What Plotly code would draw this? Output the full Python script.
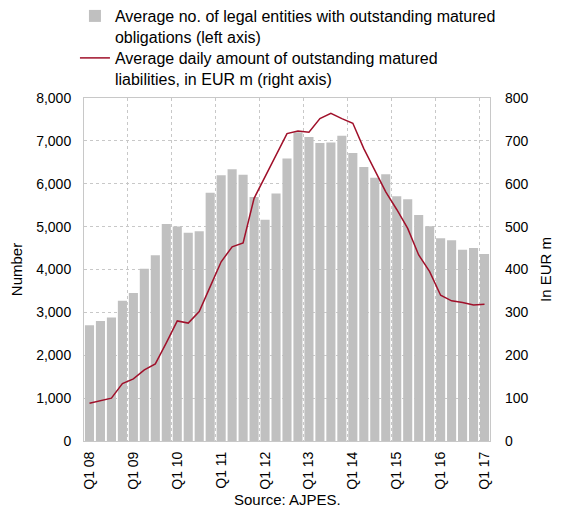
import plotly.graph_objects as go

quarters = [f"Q{q} {y:02d}" for y in range(8, 18) for q in range(1, 5)][:37]

entities = [2700, 2800, 2880, 3270, 3450, 4020, 4330, 5060, 5000, 4860,
            4890, 5790, 6200, 6340, 6210, 5690, 5160, 5770, 6590, 7200,
            7090, 6950, 6960, 7120, 6720, 6390, 6140, 6220, 5710, 5640,
            5270, 5010, 4730, 4680, 4460, 4500, 4360]

liabilities = [88, 94, 100, 134, 145, 166, 180, 229, 280, 275,
               302, 360, 418, 453, 462, 566, 616, 667, 717, 723,
               720, 752, 764, 752, 741, 682, 632, 581, 540, 496,
               434, 395, 340, 327, 323, 317, 319]

bar_name = "Average no. of legal entities with outstanding matured<br>obligations (left axis)"
line_name = "Average daily amount of outstanding matured<br>liabilities, in EUR m (right axis)"

FONT = "Liberation Sans, Arial, sans-serif"
GRID = "#c8c8c8"

fig = go.Figure()
fig.add_trace(go.Bar(x=quarters, y=entities, name=bar_name, legend="legend",
                     marker=dict(color="#c0c0c0", line=dict(width=0)), yaxis="y"))
fig.add_trace(go.Scatter(x=quarters, y=liabilities, name=line_name, mode="lines",
                         legend="legend2",
                         line=dict(color="#a0102a", width=1.5), yaxis="y2"))

leg_common = dict(x=-0.0223, xanchor="left", yanchor="top", valign="top",
                  font=dict(size=16), bgcolor="rgba(0,0,0,0)", itemwidth=30)

fig.update_layout(
    width=554, height=501,
    margin=dict(l=76, r=72, t=90, b=68, autoexpand=False),
    paper_bgcolor="white", plot_bgcolor="white",
    font=dict(family=FONT, size=14, color="#000"),
    bargap=0.17,
    showlegend=True,
    legend=dict(y=1.2886, **leg_common),
    legend2=dict(y=1.1662, **leg_common),
    xaxis=dict(type="category", tickmode="linear", tick0=0, dtick=4,
               tickson="boundaries", tickangle=-90, ticks="",
               showgrid=True, gridcolor=GRID, griddash="dot", gridwidth=1,
               showline=True, linecolor=GRID, mirror=True, automargin=False,
               range=[-0.5, 36.5], tickfont=dict(size=14), ticklabelstandoff=4),
    yaxis=dict(range=[0, 8000], dtick=1000, tickformat=",d",
               showgrid=True, gridcolor=GRID, griddash="dot", gridwidth=1,
               showline=True, linecolor=GRID, mirror=True, ticks="",
               zeroline=False, automargin=False, ticklabelstandoff=9,
               title=dict(text="Number", standoff=10, font=dict(size=15)),
               tickfont=dict(size=14)),
    yaxis2=dict(range=[0, 800], dtick=100, overlaying="y", side="right",
                showgrid=False, zeroline=False, ticks="", automargin=False,
                ticklabelstandoff=14,
                title=dict(text="In EUR m", standoff=12, font=dict(size=15)),
                tickfont=dict(size=14)),
    annotations=[dict(text="Source: AJPES.", x=0.5, y=-0.172, xref="paper", yref="paper",
                      xanchor="center", yanchor="middle", showarrow=False,
                      font=dict(size=15))],
)

fig.write_html("out.html")
